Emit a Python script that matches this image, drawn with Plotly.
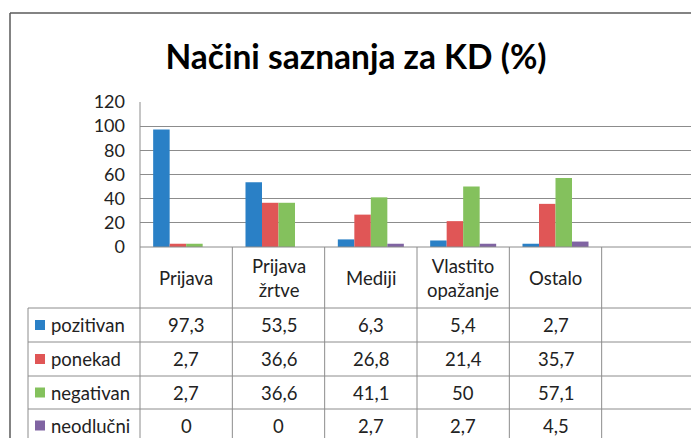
import plotly.graph_objects as go

categories = ["Prijava", "Prijava<br>žrtve", "Mediji", "Vlastito<br>opažanje", "Ostalo", ""]
series_names = ["pozitivan", "ponekad", "negativan", "neodlučni"]
pozitivan = [97.3, 53.5, 6.3, 5.4, 2.7]
ponekad = [2.7, 36.6, 26.8, 21.4, 35.7]
negativan = [2.7, 36.6, 41.1, 50, 57.1]
neodlucni = [0, 0, 2.7, 2.7, 4.5]
y_ticks = [0, 20, 40, 60, 80, 100, 120]

series = [pozitivan, ponekad, negativan, neodlucni]
colors = ["#2A80C6", "#E05656", "#84C15D", "#8064A2"]

FONT = "Lato"
OFF = 8  # page body margin
W, H = 699 - 2 * OFF, 446 - 2 * OFF  # keep page free of scrollbars

# page-pixel layout of the reference
x_left, x_right, y_top, y_axis = 140, 694, 102, 247
vis_right = OFF + W  # last visible page pixel of the figure
ncat = len(categories)
colw = (x_right - x_left) / ncat

L, T = x_left - OFF, y_top - OFF
R, B = vis_right - OFF, y_axis - OFF  # plot area (figure coords)


def px(x):
    return (x - OFF - L) / (R - L)


def py(y):
    return (B - (y - OFF)) / (B - T)


def fmt(v):
    return ("%g" % v).replace(".", ",")


fig = go.Figure()
xs = list(range(len(pozitivan)))
for name, vals, c in zip(series_names, series, colors):
    fig.add_trace(go.Bar(x=xs, y=vals, name=name, marker=dict(color=c, line=dict(width=0)),
                         showlegend=False))

shapes = []
annotations = []
grid = "#8C8C8C"

col_edges = [x_left + i * colw for i in range(ncat + 1)]
row_edges = [y_axis, 308, 342, 376, 409, 442]
label_left = 28

shapes.append(dict(type="line", xref="paper", yref="paper", x0=px(x_left), x1=px(x_right),
                   y0=py(y_axis), y1=py(y_axis), line=dict(color=grid, width=1)))
for yy in row_edges[1:]:
    shapes.append(dict(type="line", xref="paper", yref="paper", x0=px(label_left), x1=px(x_right),
                       y0=py(yy), y1=py(yy), line=dict(color=grid, width=1)))
for i, xx in enumerate(col_edges):
    top = y_top if i == 0 else y_axis
    shapes.append(dict(type="line", xref="paper", yref="paper", x0=px(xx), x1=px(xx), y0=py(top), y1=py(442),
                       line=dict(color=grid, width=1)))
shapes.append(dict(type="line", xref="paper", yref="paper", x0=px(label_left), x1=px(label_left),
                   y0=py(row_edges[1]), y1=py(442), line=dict(color=grid, width=1)))

frame = "#5A5A5A"
shapes.append(dict(type="line", xref="paper", yref="paper", x0=px(10), x1=px(705), y0=py(13), y1=py(13),
                   line=dict(color=frame, width=1.5)))
shapes.append(dict(type="line", xref="paper", yref="paper", x0=px(10), x1=px(10), y0=py(13), y1=py(460),
                   line=dict(color=frame, width=1.5)))

TFS = 18.5
for i, cat in enumerate(categories):
    if not cat:
        continue
    annotations.append(dict(xref="paper", yref="paper", x=px((col_edges[i] + col_edges[i + 1]) / 2),
                            y=py((row_edges[0] + row_edges[1]) / 2), text=cat, showarrow=False,
                            font=dict(family=FONT, size=TFS, color="#222"), xanchor="center", yanchor="middle"))

for r, (name, vals, c) in enumerate(zip(series_names, series, colors)):
    yc = (row_edges[r + 1] + row_edges[r + 2]) / 2
    shapes.append(dict(type="rect", xref="paper", yref="paper", x0=px(35), x1=px(45), y0=py(yc - 5), y1=py(yc + 5),
                       line=dict(width=0), fillcolor=c))
    annotations.append(dict(xref="paper", yref="paper", x=px(49), y=py(yc), text=name, showarrow=False,
                            font=dict(family=FONT, size=TFS, color="#222"), xanchor="left", yanchor="middle"))
    for i, v in enumerate(vals):
        annotations.append(dict(xref="paper", yref="paper", x=px((col_edges[i] + col_edges[i + 1]) / 2),
                                y=py(yc), text=fmt(v), showarrow=False,
                                font=dict(family=FONT, size=TFS, color="#222"), xanchor="center", yanchor="middle"))

fig.update_layout(
    width=W, height=H,
    margin=dict(l=L, r=W - R, t=T, b=H - B),
    paper_bgcolor="white", plot_bgcolor="white",
    barmode="group", bargap=0.285, bargroupgap=0,
    title=dict(text="<b>Načini saznanja za KD (%)</b>", x=(356 - OFF) / W, xanchor="center",
               y=1 - (57 - OFF) / H, yanchor="middle",
               font=dict(family=FONT, size=33.5, color="black")),
    xaxis=dict(range=[-0.5, -0.5 + (vis_right - x_left) / colw], showticklabels=False, showgrid=False,
               zeroline=False, showline=False, ticks=""),
    yaxis=dict(range=[0, 120], tickvals=y_ticks, showgrid=True, gridcolor=grid, gridwidth=1,
               zeroline=False, showline=False, ticks="", ticklabelstandoff=14,
               tickfont=dict(family=FONT, size=18, color="#222")),
    shapes=shapes, annotations=annotations,
)

fig.write_html("out.html")
